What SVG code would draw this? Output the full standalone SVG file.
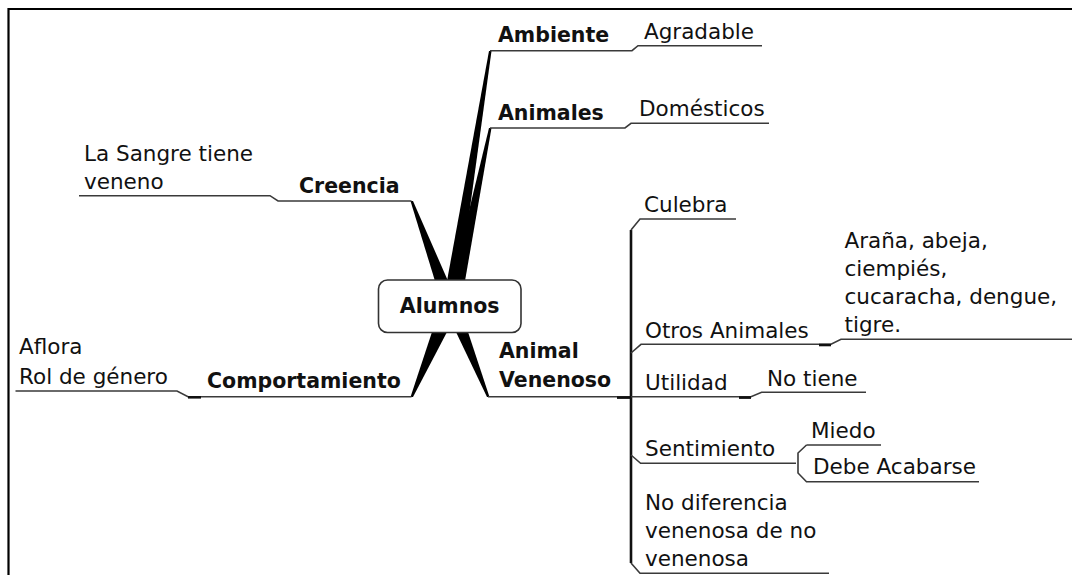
<svg xmlns="http://www.w3.org/2000/svg" width="1072" height="575" viewBox="0 0 1072 575">
<style>
text{font-family:"DejaVu Sans","Liberation Sans",sans-serif;font-size:21.5px;fill:#111}
.b{font-weight:bold;font-size:20.5px}
.ln{fill:none;stroke:#3a3a3a;stroke-width:1.6}
.vk{fill:none;stroke:#111;stroke-width:2.6}
.jt{fill:none;stroke:#111;stroke-width:2.6}
.wd{fill:#000;stroke:none}
</style>
<rect width="1072" height="575" fill="#fff"/>
<path d="M8.5,575 V9 H1072" fill="none" stroke="#000" stroke-width="2.2"/>
<g id="connectors">
<path class="wd" d="M489,51 L491.5,51 L460,281 L447,281 Z"/>
<path class="wd" d="M489,128 L491.5,128 L465,281 L452,281 Z"/>
<path class="wd" d="M410.5,201 L413,201 L448,281 L435,281 Z"/>
<path class="wd" d="M410.5,397 L413,397 L447,332 L432,332 Z"/>
<path class="wd" d="M487,397 L489.5,397 L468,332 L456,332 Z"/>
<path class="ln" d="M490,50.7 H632 L638,45.7 H762"/>
<path class="ln" d="M490,128 H625 L631,123.3 H769"/>
<path class="ln" d="M79,195.7 H270 L278,201 H411.5"/>
<path class="ln" d="M15.5,391 H177 L188,396.7 H411.5"/>
<path class="jt" d="M188,397.3 H201"/>
<path class="ln" d="M488,396.7 H631"/>
<path class="jt" d="M617,397.6 H631"/>
<path class="vk" d="M631,230 V563"/>
<path class="ln" d="M631,230 L640,219 H736"/>
<path class="ln" d="M631,353 L641,344.3 H831 L841,339.3 H1072"/>
<path class="jt" d="M819,345 H831"/>
<path class="ln" d="M631,396.7 H751 L761.6,392.3 H866"/>
<path class="jt" d="M739,397.6 H751"/>
<path class="ln" d="M631,455 L640.6,463.3 H796"/>
<path class="ln" d="M806.5,445 H881 M806.5,445 L798,453 V473 L806.5,481.7 H979"/>
<path class="ln" d="M631,563 L640,573.3 H829"/>
</g>
<g id="alumnos">
<rect x="378.5" y="280" width="142.5" height="52.5" rx="9" fill="#fff" stroke="#333" stroke-width="1.6"/>
<text class="b" x="449.7" y="313" text-anchor="middle">Alumnos</text>
</g>
<g id="ambiente"><text class="b" x="498" y="42">Ambiente</text></g>
<g id="agradable"><text x="644" y="39">Agradable</text></g>
<g id="animales"><text class="b" x="498" y="120">Animales</text></g>
<g id="domesticos"><text x="639" y="116">Domésticos</text></g>
<g id="creencia"><text class="b" x="299" y="193">Creencia</text></g>
<g id="sangre"><text x="84" y="161">La Sangre tiene</text><text x="84" y="189">veneno</text></g>
<g id="comportamiento"><text class="b" x="207" y="388">Comportamiento</text></g>
<g id="aflora"><text x="19" y="354">Aflora</text><text x="19" y="384">Rol de género</text></g>
<g id="animal-venenoso"><text class="b" x="499" y="358">Animal</text><text class="b" x="499" y="387">Venenoso</text></g>
<g id="culebra"><text x="644" y="212">Culebra</text></g>
<g id="otros-animales"><text x="645" y="338">Otros Animales</text></g>
<g id="arana"><text x="844.5" y="248">Araña, abeja,</text><text x="844.5" y="276">ciempiés,</text><text x="844.5" y="304">cucaracha, dengue,</text><text x="844.5" y="332">tigre.</text></g>
<g id="utilidad"><text x="645" y="390">Utilidad</text></g>
<g id="no-tiene"><text x="767" y="386">No tiene</text></g>
<g id="sentimiento"><text x="645" y="456">Sentimiento</text></g>
<g id="miedo"><text x="811" y="438">Miedo</text></g>
<g id="debe-acabarse"><text x="813" y="474">Debe Acabarse</text></g>
<g id="no-diferencia"><text x="645" y="510">No diferencia</text><text x="645" y="538">venenosa de no</text><text x="645" y="566">venenosa</text></g>
</svg>
